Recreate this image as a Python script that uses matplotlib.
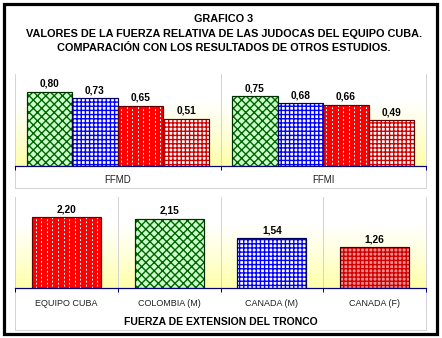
import numpy as np
import matplotlib
matplotlib.use("Agg")
import matplotlib.pyplot as plt
from matplotlib.colors import LinearSegmentedColormap
from matplotlib.lines import Line2D
from matplotlib.patches import Rectangle

plt.rcParams['font.family'] = ['Liberation Sans', 'DejaVu Sans']

# --- data -----------------------------------------------------------------
title_lines = ["GRAFICO 3",
               "VALORES DE LA FUERZA RELATIVA DE LAS JUDOCAS DEL EQUIPO CUBA.",
               "COMPARACIÓN CON LOS RESULTADOS DE OTROS ESTUDIOS."]

rel_categories = ["FFMD", "FFMI"]
rel_colombia_m = [0.80, 0.75]
rel_canada_m = [0.73, 0.68]
rel_cuba = [0.65, 0.66]
rel_canada_f = [0.51, 0.49]

ext_categories = ["EQUIPO CUBA", "COLOMBIA (M)", "CANADA (M)", "CANADA (F)"]
ext_values = [2.20, 2.15, 1.54, 1.26]
ext_xlabel = "FUERZA DE EXTENSION DEL TRONCO"

W, H = 442, 338
DPI = 100
fig = plt.figure(figsize=(W / DPI, H / DPI), dpi=DPI)
fig.patch.set_facecolor("white")

NAVY = "#000080"
GRID = "#d4d4d4"
grad_cmap = LinearSegmentedColormap.from_list(
    "bg", [(0.0, "#ffffa8"), (0.35, "#ffffd8"), (0.7, "#ffffff"), (1.0, "#ffffff")])

# fill styles: (face, hatch, hatch colour, edge colour)
STYLES = {
    "green": ("#ccffcc", "xxxx", "#006400", "#003000"),
    "blue": ("#ffffff", "++++", "#0000ff", "#000060"),
    "red": ("#ff0000", None, None, "#600000"),
    "pink": ("#ffffff", "++++", "#d00000", "#600000"),
    "pink_dark": ("#f09090", "++++", "#d00000", "#400000"),
}


def px(v):
    return v * 72.0 / DPI


def make_axes(rect_px, xlim, ylim):
    x0, y0, x1, y1 = rect_px
    ax = fig.add_axes([x0 / W, 1 - y1 / H, (x1 - x0) / W, (y1 - y0) / H])
    ax.set_xlim(*xlim)
    ax.set_ylim(*ylim)
    grad = np.linspace(0, 1, 256).reshape(-1, 1)
    ax.imshow(grad, extent=[xlim[0], xlim[1], ylim[0], ylim[1]], origin="lower",
              aspect="auto", cmap=grad_cmap, zorder=0)
    for s in ("top", "left", "right"):
        ax.spines[s].set_visible(False)
    ax.spines["bottom"].set_color(NAVY)
    ax.spines["bottom"].set_linewidth(px(1.2))
    ax.spines["bottom"].set_zorder(5)
    ax.set_yticks([])
    bounds = np.arange(xlim[0], xlim[1] + 0.01, 1.0)
    ax.set_xticks(bounds)
    ax.set_xticklabels([])
    ax.tick_params(axis="x", colors=NAVY, length=px(4), width=px(1), direction="out")
    return ax, bounds


def dashed_red(ax, bar):
    # staggered white vertical dashes inside a solid red bar
    x0, w, h = bar.get_x(), bar.get_width(), bar.get_height()
    bb = ax.get_window_extent()
    xl = ax.get_xlim()
    ppu = bb.width / (xl[1] - xl[0])
    step = 5.6 / ppu
    n = int(w / step)
    start = x0 + (w - (n - 1) * step) / 2
    on, off = px(2.5), px(3.0)
    for i in range(n):
        xx = start + i * step
        offset = px(2.75) if i % 2 else 0.0
        ln = Line2D([xx, xx], [0, h], color="white", lw=px(1.0),
                    linestyle=(offset, (on, off)), dash_capstyle="butt",
                    zorder=3)
        ax.add_line(ln)
        ln.set_clip_path(bar)


def draw_bars(ax, xs, vals, width, style):
    face, hatch, hcol, edge = STYLES[style]
    bars = ax.bar(xs, vals, width, color=face, linewidth=0, zorder=2)
    if hatch:
        ax.bar(xs, vals, width, color="none", edgecolor=hcol, hatch=hatch,
               linewidth=0, zorder=3)
    if style == "red":
        for b in bars:
            dashed_red(ax, b)
    ax.bar(xs, vals, width, color="none", edgecolor=edge, linewidth=px(1.2),
           zorder=4)
    return bars


def label_values(ax, xs, vals):
    for x, v in zip(xs, vals):
        ax.annotate(f"{v:.2f}".replace(".", ","), (x, v), xytext=(0, 2),
                    textcoords="offset points", ha="center", va="bottom",
                    fontsize=7.3, fontweight="bold", color="black", zorder=6)


def frame_lines(ax, bounds, bottom_frac):
    for i, b in enumerate(bounds):
        outer = i == 0 or i == len(bounds) - 1
        y_lo = bottom_frac if outer else 0
        ax.add_line(Line2D([b, b], [y_lo, 1], transform=ax.get_xaxis_transform(),
                           color=GRID, lw=px(1), clip_on=False, zorder=1))
    ax.add_line(Line2D([bounds[0], bounds[-1]], [bottom_frac, bottom_frac],
                       transform=ax.get_xaxis_transform(), color=GRID,
                       lw=px(1), clip_on=False, zorder=1))


# --- top chart: relative strength -----------------------------------------
top_rect = (15, 74, 426, 166)
ax1, b1 = make_axes(top_rect, (-0.5, 1.5), (0, 0.99))
x1 = np.arange(len(rel_categories))
bw = 0.222
series = [(rel_colombia_m, "green"), (rel_canada_m, "blue"),
          (rel_cuba, "red"), (rel_canada_f, "pink")]
for k, (vals, st) in enumerate(series):
    xs = x1 + (k - 1.5) * bw
    draw_bars(ax1, xs, vals, bw, st)
    label_values(ax1, xs, vals)
frame_lines(ax1, b1, -(188 - 166) / (166 - 74))
for x, c in zip(x1, rel_categories):
    ax1.text(x, -(180 - 166) / (166 - 74), c, transform=ax1.get_xaxis_transform(),
             ha="center", va="center", fontsize=7, color="#202020")

# --- bottom chart: trunk extension ------------------------------------------
bot_rect = (15, 197, 426, 288)
ax2, b2 = make_axes(bot_rect, (-0.5, 3.5), (0, 2.82))
x2 = np.arange(len(ext_categories))
ext_styles = ["red", "green", "blue", "pink_dark"]
for x, v, st in zip(x2, ext_values, ext_styles):
    draw_bars(ax2, [x], [v], 0.67, st)
label_values(ax2, x2, ext_values)
frame_lines(ax2, b2, -(330 - 288) / (288 - 197))
for x, c in zip(x2, ext_categories):
    ax2.text(x, -(304 - 288) / (288 - 197), c, transform=ax2.get_xaxis_transform(),
             ha="center", va="center", fontsize=6.5, color="#202020")
ax2.text(1.5, -(322 - 288) / (288 - 197), ext_xlabel,
         transform=ax2.get_xaxis_transform(), ha="center", va="center",
         fontsize=7.5, fontweight="bold", color="black")

# --- titles ------------------------------------------------------------------
for yy, line in zip([19, 34, 48], title_lines):
    fig.text(224 / W, 1 - yy / H, line, ha="center", va="center",
             fontsize=7.8, fontweight="bold", color="black")

# --- outer black frame -------------------------------------------------------
fig.add_artist(Rectangle((3.5 / W, 1 - 333.5 / H), (437 - 3.5) / W, (333.5 - 3.5) / H,
                         transform=fig.transFigure, fill=False,
                         edgecolor="black", linewidth=px(3.2), zorder=10))

fig.savefig("out.png", dpi=DPI)
